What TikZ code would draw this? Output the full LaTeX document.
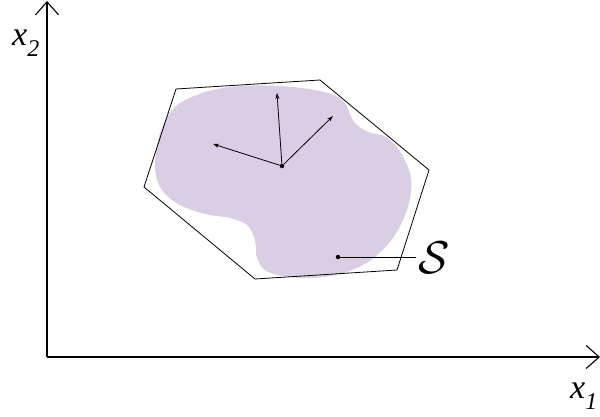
\documentclass[tikz,border=0pt]{standalone}
\usepackage{fontspec}
\setmainfont{Liberation Serif}
\usetikzlibrary{arrows.meta}
\definecolor{blobfill}{RGB}{217,206,228}
\begin{document}
\begin{tikzpicture}[x=1pt,y=-1pt,
  axis/.style={line width=1.1pt,-{Straight Barb[length=13pt,width=23pt,line width=1.1pt]}},
  vec/.style={line width=0.8pt,-{Stealth[length=6pt,width=4pt]}},
  dot/.style={circle,fill=black,inner sep=0pt,minimum size=4.5pt},
  lbl/.style={font=\fontsize{34}{38}\selectfont\itshape,inner sep=0pt}]
\useasboundingbox (0,0) rectangle (600,416);
% blob
\fill[blobfill] plot[smooth cycle, tension=0.55] coordinates {
 (155,163) (161,130) (176,106) (205,92) (240,86) (280,86) (315,90) (338,97)
 (347,107) (354,122) (368,132) (386,137) (401,153) (411,178) (408,207)
 (393,238) (368,262) (336,275) (300,278) (268,272) (257,258) (255,240)
 (247,225) (230,218) (205,214) (178,204) (160,187)};
% hexagon
\draw[line width=0.8pt,line join=miter] (176,89) -- (320,80) -- (429,170) -- (397,270) -- (255,279) -- (144,187) -- cycle;
% axes
\coordinate (O) at (47,357);
\coordinate (Y) at (47,1);
\coordinate (X) at (600,357);
\draw[axis] (O) -- (Y);
\draw[axis] (O) -- (X);
\node[lbl,anchor=base west] (x2) at (12,45) {x\raisebox{-0.33em}{\fontsize{24}{26}\selectfont 2}};
\node[lbl,anchor=base west] (x1) at (570,398) {x\raisebox{-0.33em}{\fontsize{24}{26}\selectfont 1}};
% vectors
\node[dot] (c) at (282,166) {};
\coordinate (a1) at (213,144);
\coordinate (a2) at (277,93);
\coordinate (a3) at (333,116);
\draw[vec] (c) -- (a1);
\draw[vec] (c) -- (a2);
\draw[vec] (c) -- (a3);
% S label
\node[dot] (s) at (338,257) {};
\node[anchor=west,inner sep=2pt] (S) at (416,258) {\scalebox{4.6}{$\mathcal{S}$}};
\draw[line width=0.8pt] (s) -- (S.west |- s);
\end{tikzpicture}
\end{document}
